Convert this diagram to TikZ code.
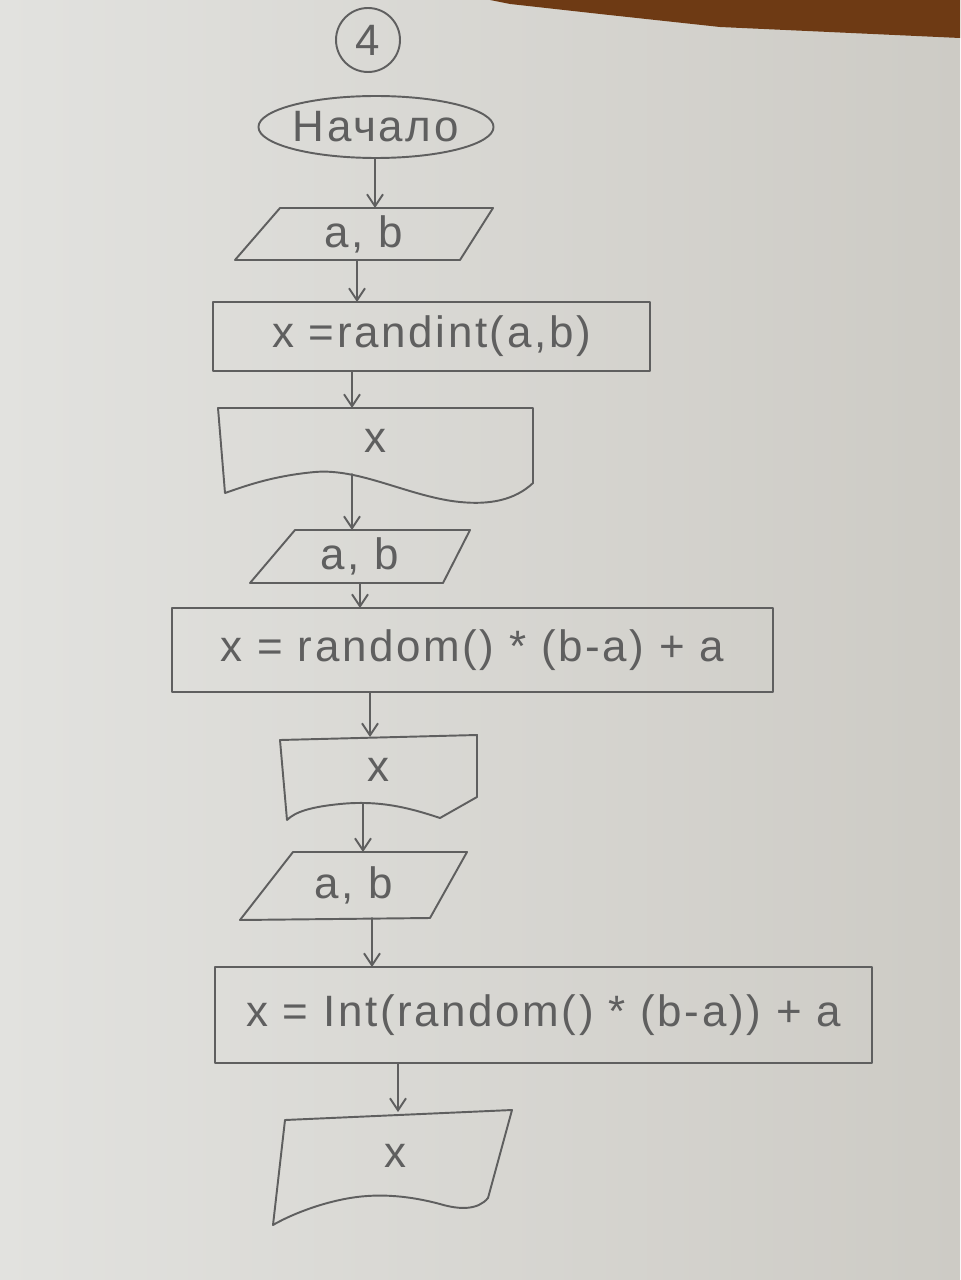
\documentclass[tikz,border=0pt]{standalone}
\usepackage{fontspec}
\setmainfont{Liberation Sans}[LetterSpace=6]
\usetikzlibrary{shapes.geometric,arrows.meta}
\definecolor{paperL}{RGB}{226,226,223}
\definecolor{paperM}{RGB}{236,236,233}
\definecolor{paperR}{RGB}{205,203,197}
\definecolor{pencil}{RGB}{95,95,95}
\definecolor{desk}{RGB}{110,58,20}
\begin{document}
\begin{tikzpicture}[x=0.02cm,y=-0.02cm,
  pen/.style={draw=pencil,line width=1.1pt,line join=round,line cap=round},
  txt/.style={text=pencil,font=\fontsize{25}{30}\selectfont,inner sep=0pt,outer sep=0pt},
  procbox/.style={txt,pen,rectangle},
  ghost/.style={txt,rectangle,draw=none},
  arr/.style={pen,-{Straight Barb[length=0.24cm,width=0.32cm,line width=1.1pt]}}]
\useasboundingbox (0,0) rectangle (960,1280);
\shade[left color=paperL,middle color=paperM,right color=paperR] (0,0) rectangle (960,1280);
\fill[desk] (490,0) -- (960,0) -- (960,38) -- (720,27) -- (600,14) -- (510,4) -- cycle;

% page number and terminator
\node[txt,pen,circle,minimum size=1.28cm] (num) at (368,40) {4};
\node[txt,pen,ellipse,minimum width=4.64cm,minimum height=1.24cm] (start) at (376,127) {Начало};

% input 1
\node[ghost,minimum width=5.16cm,minimum height=1.04cm] (in1) at (364,234) {a, b};
\draw[pen] (280,208) -- (493,208) -- (460,260) -- (235,260) -- cycle;

% process 1
\node[procbox,minimum width=8.74cm,minimum height=1.38cm] (p1) at (431.5,336.5) {x =randint(a,b)};

% output 1 (document)
\node[ghost,minimum width=6.3cm,minimum height=1.32cm] (out1) at (375.5,441) {x};
\draw[pen] (225,493) -- (218,408) -- (533,408) -- (533,483)
  .. controls (515,500) and (490,505) .. (460,502)
  .. controls (410,497) and (360,468) .. (315,472)
  .. controls (270,476) and (240,488) .. (225,493);

% input 2
\node[ghost,minimum width=4.4cm,minimum height=1.06cm] (in2) at (360,556.5) {a, b};
\draw[pen] (295,530) -- (470,530) -- (443,583) -- (250,583) -- cycle;

% process 2
\node[procbox,minimum width=12.02cm,minimum height=1.68cm] (p2) at (472.5,650) {x = random() * (b-a) + a};

% output 2 (document)
\node[ghost,minimum width=3.94cm,minimum height=1.32cm] (out2) at (378.5,770) {x};
\draw[pen] (287,820) -- (280,740) -- (477,735) -- (477,797) -- (440,818)
  .. controls (410,808) and (380,800) .. (340,804)
  .. controls (310,807) and (295,812) .. (287,820);

% input 3
\node[ghost,minimum width=4.54cm,minimum height=1.32cm] (in3) at (353.5,885) {a, b};
\draw[pen] (293,852) -- (467,852) -- (430,918) -- (240,920) -- cycle;

% process 3
\node[procbox,minimum width=13.14cm,minimum height=1.92cm] (p3) at (543.5,1015) {x = Int(random() * (b-a)) + a};

% output 3 (document)
\node[ghost,minimum width=4.68cm,minimum height=1.76cm] (out3) at (395,1156) {x};
\draw[pen] (273,1225) -- (285,1120) -- (512,1110) -- (488,1198)
  .. controls (478,1210) and (460,1210) .. (440,1204)
  .. controls (410,1196) and (380,1193) .. (350,1198)
  .. controls (320,1203) and (290,1215) .. (273,1225);

% connector columns
\coordinate (c1) at (375,0);
\coordinate (c2) at (357,0);
\coordinate (c3) at (352,0);
\coordinate (c4) at (352,0);
\coordinate (c5) at (360,0);
\coordinate (c6) at (370,0);
\coordinate (c7) at (363,0);
\coordinate (c8) at (372,0);
\coordinate (c9) at (398,0);

\draw[arr] (start.south -| c1) -- (in1.north -| c1);
\draw[arr] (in1.south -| c2) -- (p1.north -| c2);
\draw[arr] (p1.south -| c3) -- (out1.north -| c3);
\draw[arr] (out1.south -| c4) -- (in2.north -| c4);
\draw[arr] (in2.south -| c5) -- (p2.north -| c5);
\draw[arr] (p2.south -| c6) -- (out2.north -| c6);
\draw[arr] (out2.south -| c7) -- (in3.north -| c7);
\draw[arr] (in3.south -| c8) -- (p3.north -| c8);
\draw[arr] (p3.south -| c9) -- (out3.north -| c9);
\end{tikzpicture}
\end{document}
